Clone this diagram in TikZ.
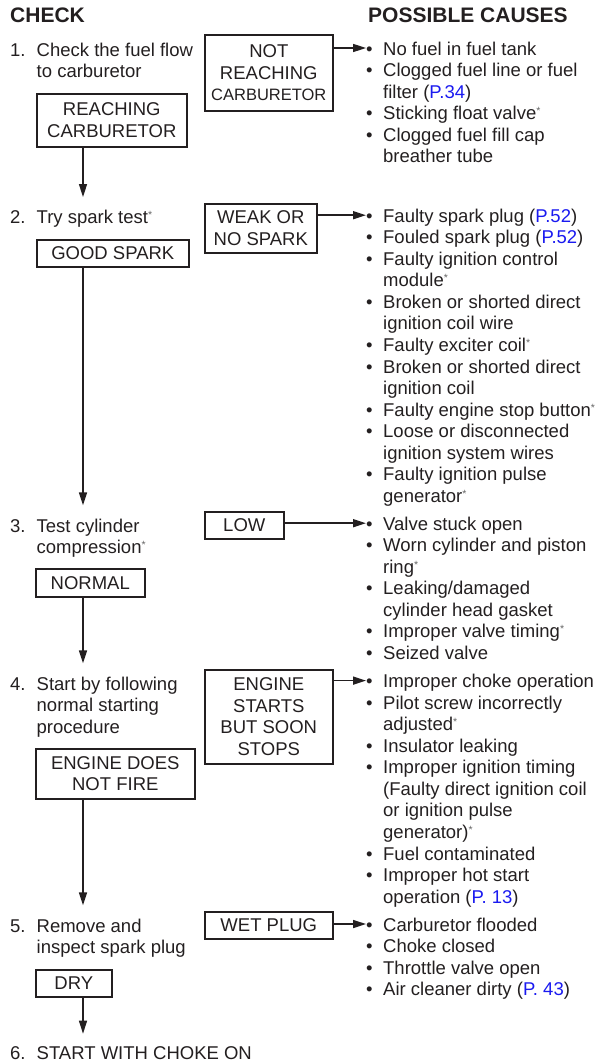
\documentclass[tikz,border=0pt]{standalone}
\usepackage{fontspec}
\setmainfont{Liberation Sans}
\usetikzlibrary{arrows.meta}
\definecolor{ink}{HTML}{231F20}
\definecolor{pageref}{HTML}{1A1AF0}
\newcommand{\pg}[1]{\textcolor{pageref}{#1}}
\newcommand{\starnote}{\raisebox{5pt}{\fontsize{10.5}{10}\selectfont\textcolor{black!60}{*}}}
\newcommand{\bul}{\makebox[17pt][l]{\textbullet}}
\newcommand{\causeind}{\hspace*{17pt}}
\newcommand{\stepno}[1]{\makebox[26.5pt][l]{#1}}
\newcommand{\stepind}{\hspace*{26.5pt}}
\begin{document}
\begin{tikzpicture}
  [x=1pt,y=-1pt,color=ink,
   every node/.style={inner sep=0pt,font=\fontsize{18.5}{21.55}\selectfont,text=ink},
   head/.style={anchor=north west,font=\fontsize{21}{24}\selectfont\bfseries},
   txt/.style={anchor=north west,align=left},
   result/.style={draw,line width=1.6pt,anchor=north west,align=center},
   flow/.style={line width=1.6pt,-{Triangle[length=13pt,width=8pt]}}]
  \useasboundingbox (0,0) rectangle (598,1062);

  \node[head] (hcheck) at (10,7.5) {CHECK};
  \node[head] (hcauses) at (368,7.5) {POSSIBLE CAUSES};

  % steps
  \node[txt] (s1) at (10,42.4) {\stepno{1.}Check the fuel flow\\\stepind to carburetor};
  \node[txt] (s2) at (10,210) {\stepno{2.}Try spark test\starnote};
  \node[txt] (s3) at (10,518.4) {\stepno{3.}Test cylinder\\\stepind compression\starnote};
  \node[txt] (s4) at (10,676.4) {\stepno{4.}Start by following\\\stepind normal starting\\\stepind procedure};
  \node[txt] (s5) at (10,918.4) {\stepno{5.}Remove and\\\stepind inspect spark plug};
  \node[txt] (s6) at (10,1046.7) {\stepno{6.}START WITH CHOKE ON};

  % results
  \node[result,minimum width=128,minimum height=76] (notreach) at (204,34)
    {NOT\\REACHING\\{\fontsize{16.5}{21.55}\selectfont CARBURETOR}};
  \node[result,minimum width=150,minimum height=53] (reach) at (36,93) {REACHING\\CARBURETOR};
  \node[result,minimum width=112,minimum height=49] (weak) at (204,203) {WEAK OR\\NO SPARK};
  \node[result,minimum width=152,minimum height=27] (good) at (36,239) {GOOD SPARK};
  \node[result,minimum width=79,minimum height=27] (low) at (204,511) {LOW};
  \node[result,minimum width=109,minimum height=28] (normal) at (35,568) {NORMAL};
  \node[result,minimum width=128,minimum height=94] (starts) at (204,669)
    {ENGINE\\STARTS\\BUT SOON\\STOPS};
  \node[result,minimum width=159,minimum height=50] (nofire) at (35,748) {ENGINE DOES\\NOT FIRE};
  \node[result,minimum width=128,minimum height=27] (wet) at (204,911) {WET PLUG};
  \node[result,minimum width=76,minimum height=27] (dry) at (35,969) {DRY};

  % causes
  \node[txt] (c1) at (366,41.4) {\bul No fuel in fuel tank\\
    \bul Clogged fuel line or fuel\\\causeind filter (\pg{P.34})\\
    \bul Sticking float valve\starnote\\
    \bul Clogged fuel fill cap\\\causeind breather tube};
  \node[txt] (c2) at (366,208.6) {\bul Faulty spark plug (\pg{P.52})\\
    \bul Fouled spark plug (\pg{P.52})\\
    \bul Faulty ignition control\\\causeind module\starnote\\
    \bul Broken or shorted direct\\\causeind ignition coil wire\\
    \bul Faulty exciter coil\starnote\\
    \bul Broken or shorted direct\\\causeind ignition coil\\
    \bul Faulty engine stop button\starnote\\
    \bul Loose or disconnected\\\causeind ignition system wires\\
    \bul Faulty ignition pulse\\\causeind generator\starnote};
  \node[txt] (c3) at (366,516.6) {\bul Valve stuck open\\
    \bul Worn cylinder and piston\\\causeind ring\starnote\\
    \bul Leaking/damaged\\\causeind cylinder head gasket\\
    \bul Improper valve timing\starnote\\
    \bul Seized valve};
  \node[txt] (c4) at (366,674) {\bul Improper choke operation\\
    \bul Pilot screw incorrectly\\\causeind adjusted\starnote\\
    \bul Insulator leaking\\
    \bul Improper ignition timing\\\causeind (Faulty direct ignition coil\\
    \causeind or ignition pulse\\\causeind generator)\starnote\\
    \bul Fuel contaminated\\
    \bul Improper hot start\\\causeind operation (\pg{P. 13})};
  \node[txt] (c5) at (366,917.4) {\bul Carburetor flooded\\
    \bul Choke closed\\
    \bul Throttle valve open\\
    \bul Air cleaner dirty (\pg{P. 43})};

  \coordinate (spine) at (83,0);
  \foreach \n in {c1,c2,c3,c4,c5}
    \coordinate (\n-tip) at ([yshift=-6.6pt]\n.north west);

  \foreach \from/\to in {reach/s2,good/s3,normal/s4,nofire/s5,dry/s6}
    \draw[flow,shorten >=13pt] (\from.south -| spine) -- (\to.north -| spine);
  \foreach \from/\to in {notreach/c1,weak/c2,low/c3,starts/c4,wet/c5}
    \draw[flow] (\from.east |- \to-tip) -- (\to-tip);

\end{tikzpicture}
\end{document}
